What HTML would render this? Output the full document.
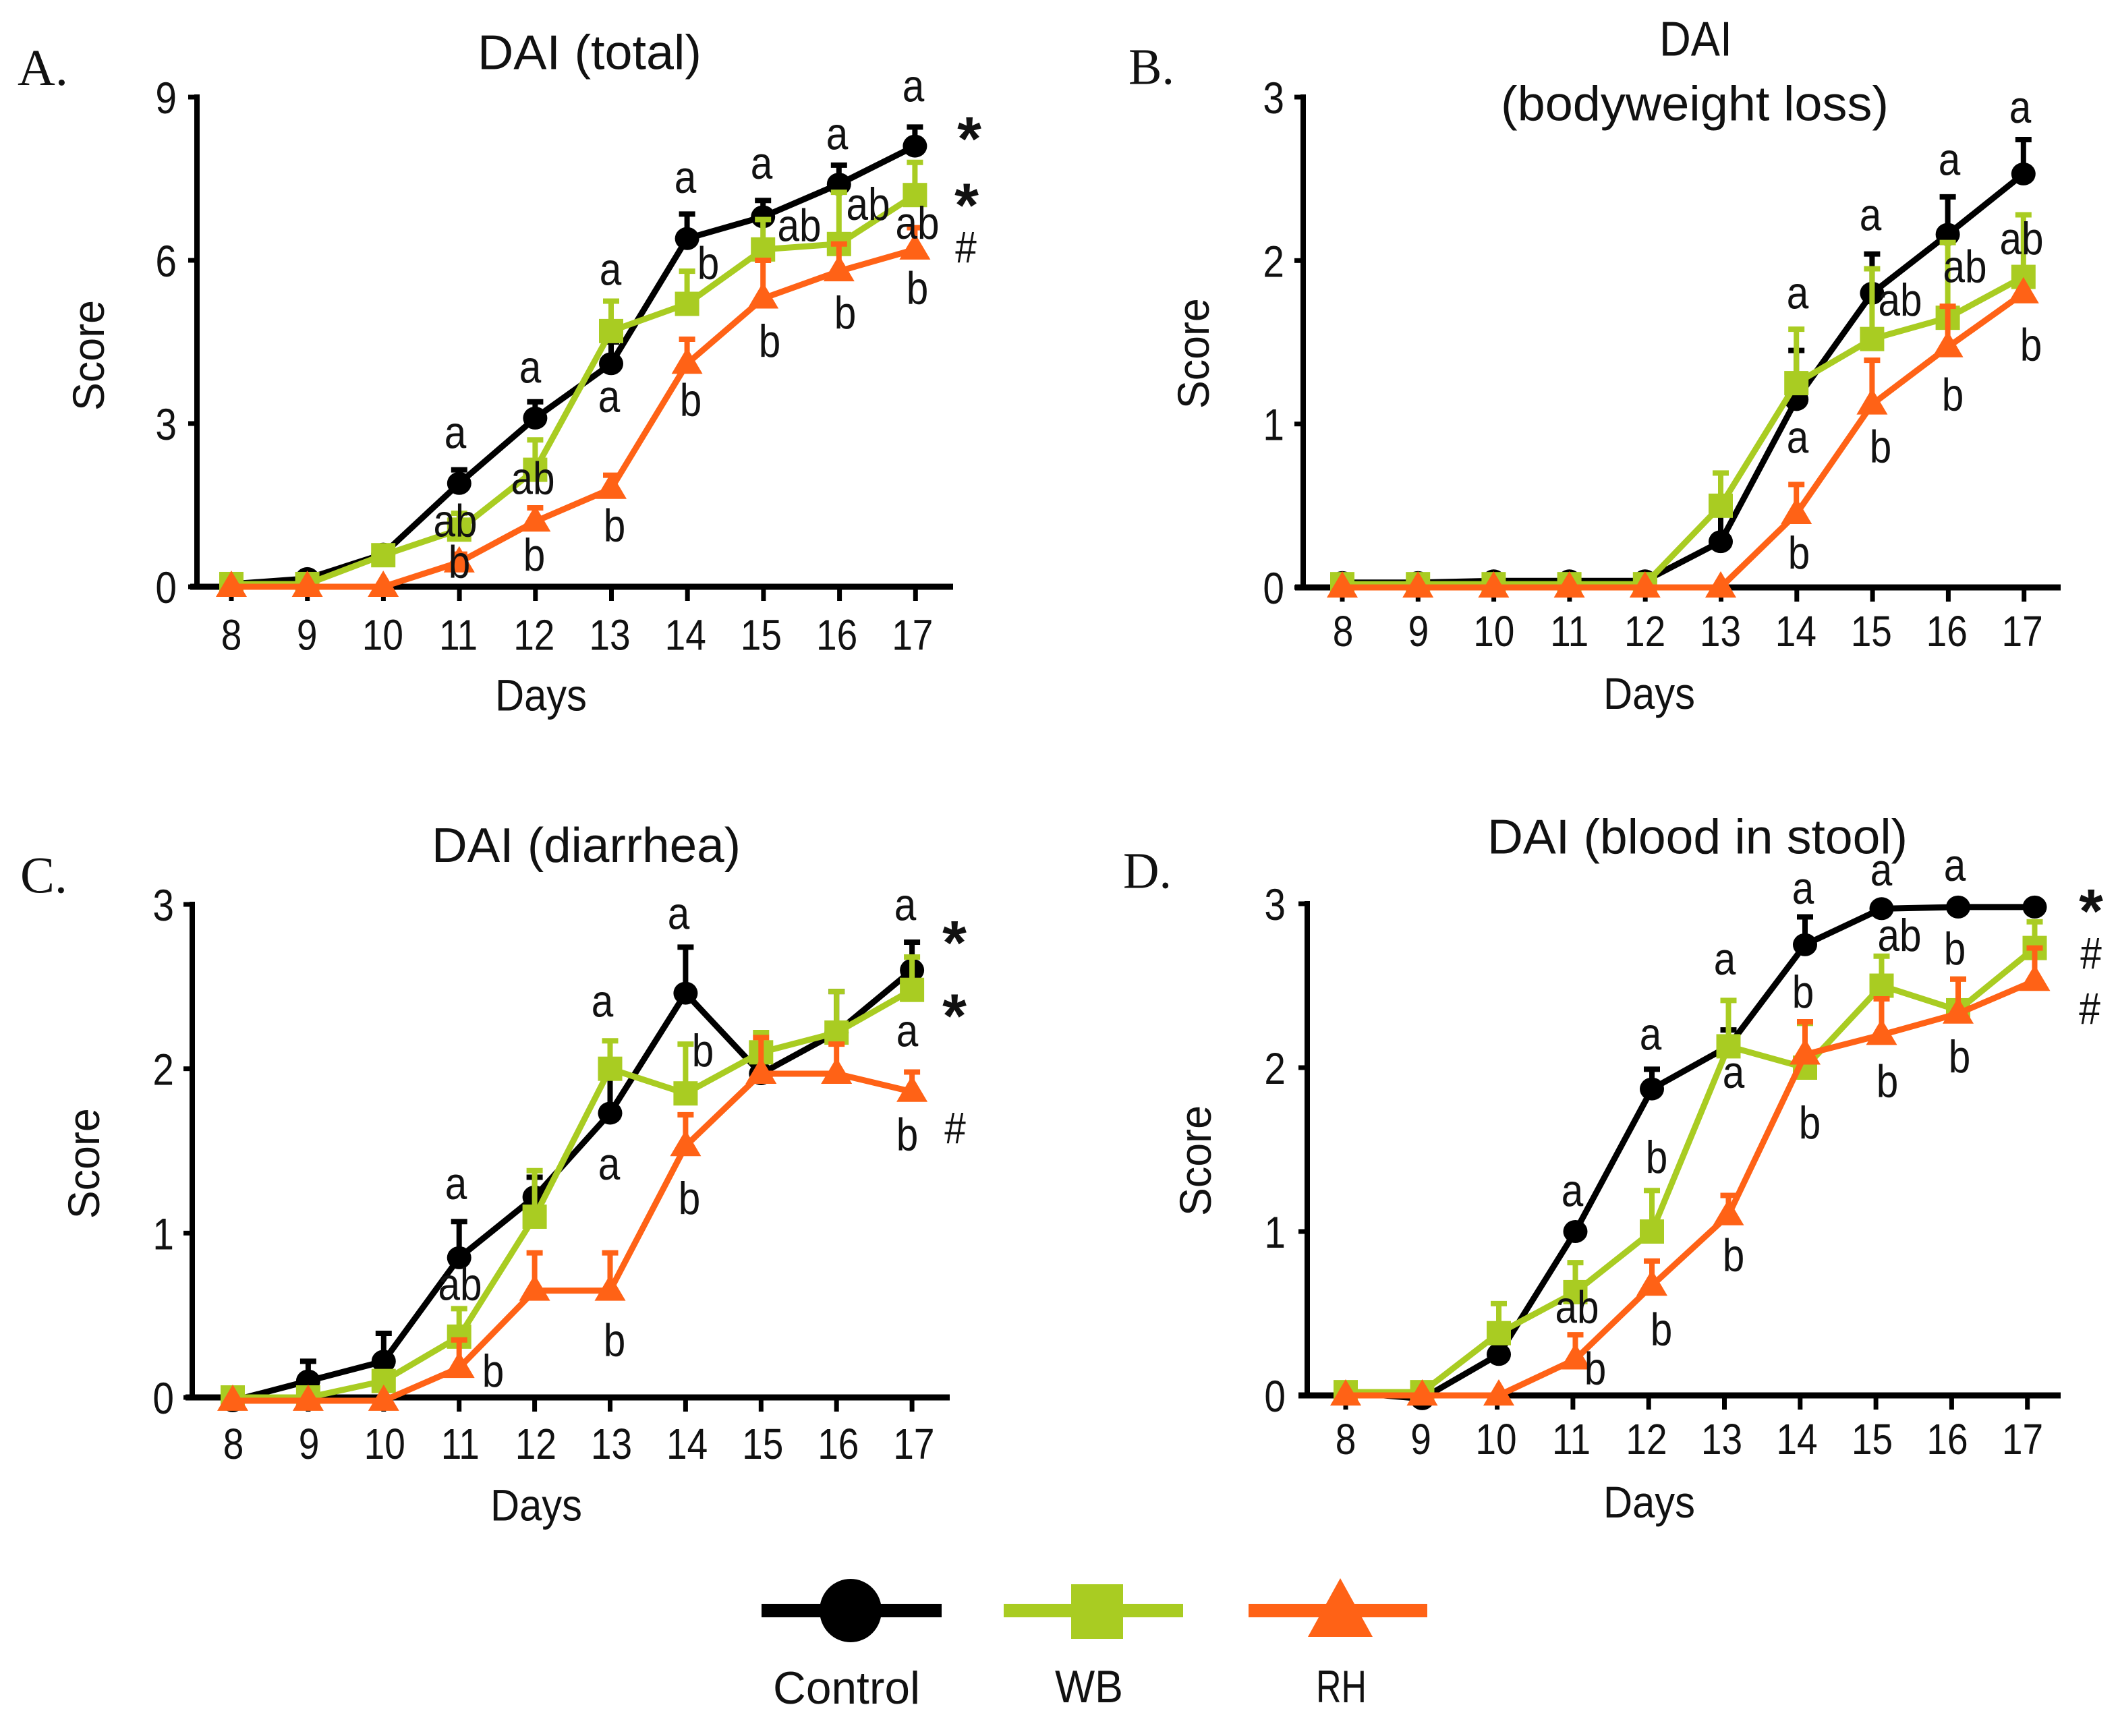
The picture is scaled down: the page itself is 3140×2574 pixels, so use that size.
<!DOCTYPE html>
<html>
<head>
<meta charset="utf-8">
<style>
html,body{margin:0;padding:0;background:#fff;}
svg{display:block;font-family:"Liberation Sans",sans-serif;}
text{fill:#111;}
</style>
</head>
<body>
<svg id="figure" width="3140" height="2574" viewBox="0 0 3140 2574" xmlns="http://www.w3.org/2000/svg"></svg>
<script>
const days = [8, 9, 10, 11, 12, 13, 14, 15, 16, 17];

const aTicks = [0, 3, 6, 9];
const aControl = [0.05, 0.15, 0.6, 1.9, 3.1, 4.1, 6.4, 6.8, 7.4, 8.1];
const aControlErr = [0, 0, 0.05, 0.25, 0.3, 0.4, 0.45, 0.3, 0.35, 0.35];
const aWB = [0.05, 0.05, 0.58, 1.05, 2.15, 4.7, 5.2, 6.2, 6.3, 7.2];
const aWBErr = [0, 0, 0.05, 0.3, 0.55, 0.55, 0.6, 0.55, 0.95, 0.6];
const aRH = [0, 0, 0, 0.45, 1.2, 1.8, 4.1, 5.3, 5.8, 6.2];
const aRHErr = [0, 0, 0, 0.15, 0.25, 0.25, 0.45, 0.7, 0.5, 0.4];

const bTicks = [0, 1, 2, 3];
const bControl = [0.03, 0.03, 0.04, 0.04, 0.04, 0.28, 1.15, 1.8, 2.16, 2.53];
const bControlErr = [0, 0, 0, 0, 0, 0.17, 0.3, 0.24, 0.23, 0.21];
const bWB = [0.02, 0.02, 0.02, 0.02, 0.02, 0.5, 1.25, 1.52, 1.65, 1.9];
const bWBErr = [0, 0, 0, 0, 0, 0.2, 0.33, 0.43, 0.46, 0.38];
const bRH = [0, 0, 0, 0, 0, 0, 0.45, 1.12, 1.47, 1.8];
const bRHErr = [0, 0, 0, 0, 0, 0, 0.18, 0.27, 0.25, 0];

const cTicks = [0, 1, 2, 3];
const cControl = [-0.02, 0.1, 0.22, 0.85, 1.22, 1.73, 2.46, 1.97, 2.22, 2.6];
const cControlErr = [0, 0.12, 0.17, 0.22, 0.12, 0.25, 0.28, 0.1, 0.25, 0.17];
const cWB = [0, 0, 0.1, 0.37, 1.1, 2.0, 1.85, 2.1, 2.22, 2.48];
const cWBErr = [0, 0, 0.05, 0.17, 0.28, 0.17, 0.3, 0.12, 0.25, 0.2];
const cRH = [-0.02, -0.02, -0.02, 0.18, 0.65, 0.65, 1.53, 1.97, 1.97, 1.86];
const cRHErr = [0, 0, 0, 0.17, 0.23, 0.23, 0.19, 0.22, 0.18, 0.12];

const dTicks = [0, 1, 2, 3];
const dControl = [0.02, -0.02, 0.25, 1, 1.87, 2.13, 2.75, 2.97, 2.98, 2.98];
const dControlErr = [0, 0, 0, 0, 0.12, 0.1, 0.17, 0, 0, 0];
const dWB = [0.02, 0.02, 0.38, 0.63, 1, 2.13, 2, 2.5, 2.35, 2.73];
const dWBErr = [0, 0, 0.18, 0.18, 0.25, 0.28, 0.27, 0.18, 0.19, 0.16];
const dRH = [0, 0, 0, 0.22, 0.67, 1.1, 2.08, 2.2, 2.33, 2.53];
const dRHErr = [0, 0, 0, 0.15, 0.15, 0.12, 0.2, 0.22, 0.21, 0.2];

const BLACK = '#000000', GREEN = '#A9CC22', ORANGE = '#FF6216';
const NS = 'http://www.w3.org/2000/svg';
const root = document.getElementById('figure');

function mk(tag, attrs, parent) {
  const el = document.createElementNS(NS, tag);
  for (const k in attrs) el.setAttribute(k, attrs[k]);
  (parent || root).appendChild(el);
  return el;
}
function txt(str, attrs, parent) {
  const el = mk('text', attrs, parent);
  el.textContent = str;
  return el;
}
function narrow(str, x, y, size, anchor, parent) {
  return txt(str, {x: 0, y: 0, transform: 'translate(' + x + ' ' + y + ') scale(0.86 1)', 'font-size': size, 'text-anchor': anchor}, parent);
}
const ZY = 1.427;

function drawSeries(g, key, label, color, values, errs, xf, yf) {
  const sg = mk('g', {}, g);
  
  
  values.forEach((v, i) => {
    if (errs[i] <= 0) return;
    const x = xf(i), y1 = yf(v), y2 = yf(v + errs[i]);
    const eb = mk('path', {d: 'M' + x + ' ' + y1 + 'V' + y2 + 'M' + (x - 12) + ' ' + y2 + 'H' + (x + 12), stroke: color, 'stroke-width': 8, fill: 'none'}, sg);
    
    
  });
  const line = mk('polyline', {points: values.map((v, i) => xf(i) + ',' + yf(v)).join(' '), fill: 'none', stroke: color, 'stroke-width': 9, 'stroke-linejoin': 'round'}, sg);
  
  
  values.forEach((v, i) => {
    const x = xf(i), y = yf(v);
    let m;
    if (label === 'control') m = mk('ellipse', {cx: x, cy: y, rx: 18, ry: 17, fill: color}, sg);
    else if (label === 'wb') m = mk('rect', {x: x - 18, y: y - 18, width: 36, height: 36, fill: color}, sg);
    else m = mk('polygon', {points: x + ',' + (y - 24) + ' ' + (x + 23) + ',' + (y + 15) + ' ' + (x - 23) + ',' + (y + 15), fill: color}, sg);
    
    
  });
}

function drawPanel(p) {
  const g = mk('g', {});
  
  
  const y = v => p.y0 - v * (p.y0 - p.yTop) / p.max;
  const xData = i => p.ox + p.dataX0 + p.dataDx * i;
  const xTick = i => p.ox + p.tickX0 + p.tickDx * i;
  const xLabel = i => p.ox + p.labelX0 + p.labelDx * i;

  const yAxis = mk('line', {x1: p.ox + p.axisX, x2: p.ox + p.axisX, y1: p.yTop - 4, y2: p.y0 + 4, stroke: '#000', 'stroke-width': 8}, g);
  
  
  const xAxis = mk('line', {x1: p.ox + p.xAxisL, x2: p.ox + p.xAxisR, y1: p.y0, y2: p.y0, stroke: '#000', 'stroke-width': 9}, g);
  
  

  p.ticks.forEach(v => {
    const t = mk('line', {x1: p.ox + p.axisX - 13, x2: p.ox + p.axisX, y1: y(v), y2: y(v), stroke: '#000', 'stroke-width': 7}, g);
    
    
    const l = narrow(String(v), p.ox + p.yLabelRight, y(v) + 24, 66, 'end', g);
    
    
  });
  days.forEach((d, i) => {
    const t = mk('line', {x1: xTick(i), x2: xTick(i), y1: p.y0, y2: p.y0 + 21, stroke: '#000', 'stroke-width': 7}, g);
    
    
    const l = narrow(String(d), xLabel(i), p.oy + p.xLabelBase / ZY, 64, 'middle', g);
    
    
  });

  drawSeries(g, p.key, 'control', BLACK, p.control, p.controlErr, xData, y);
  drawSeries(g, p.key, 'wb', GREEN, p.wb, p.wbErr, xData, y);
  drawSeries(g, p.key, 'rh', ORANGE, p.rh, p.rhErr, xData, y);

  const dl = txt('Days', {x: p.ox + p.daysCx, y: p.oy + p.daysBase / ZY, 'font-size': 66, 'text-anchor': 'middle', textLength: 136, lengthAdjust: 'spacingAndGlyphs'}, g);
  
  
  const sx = p.ox + p.scoreX, sy = p.oy + p.scoreY / ZY;
  const sl = txt('Score', {x: 0, y: 0, transform: 'translate(' + sx + ' ' + sy + ') rotate(-90)', 'font-size': 66, 'text-anchor': 'middle', textLength: 164, lengthAdjust: 'spacingAndGlyphs'}, g);
  
  

  const letter = txt(p.letter, {x: p.ox + p.letterX, y: p.oy + p.letterBase / ZY, 'font-size': 76, style: 'font-family:"Liberation Serif",serif', textLength: p.letterW, lengthAdjust: 'spacingAndGlyphs'}, g);
  
  
  return g;
}

function title(p, str, zx1, zx2, zBase) {
  const el = txt(str, {x: p.ox + (zx1 + zx2) / 2, y: p.oy + zBase / ZY, 'font-size': 72, 'text-anchor': 'middle', textLength: zx2 - zx1, lengthAdjust: 'spacingAndGlyphs'});
  
  
}
function note(p, str, zx, zBase) {
  const el = narrow(str, p.ox + zx, p.oy + zBase / ZY, 68, 'middle');
  
  
}
function star(p, zx, zCenter) {
  const el = txt('*', {x: p.ox + zx, y: p.oy + zCenter / ZY + 52, 'font-size': 92, 'font-weight': 'bold', 'text-anchor': 'middle'});
  
  
}
function hash(p, zx, zBase) {
  const el = narrow('#', p.ox + zx, p.oy + zBase / ZY, 66, 'middle');
  
  
}

const pA = {key:'a', letter:'A.', letterX:26, letterBase:180, letterW:75, ox:0, oy:0, axisX:292, yTop:144, y0:870, max:9, xAxisL:282, xAxisR:1413,
  tickX0:343, tickDx:112.7, dataX0:343, dataDx:112.6, labelX0:343, labelDx:112.2, yLabelRight:262, xLabelBase:1375, daysCx:802, daysBase:1503, scoreX:154, scoreY:752,
  ticks:aTicks, control:aControl, controlErr:aControlErr, wb:aWB, wbErr:aWBErr, rh:aRH, rhErr:aRHErr};
const pB = {key:'b', letter:'B.', letterX:103, letterBase:178, letterW:68, ox:1570, oy:0, axisX:362, yTop:144, y0:871, max:3, xAxisL:350, xAxisR:1485,
  tickX0:420, tickDx:112.3, dataX0:420, dataDx:112.2, labelX0:421, labelDx:111.9, yLabelRight:334, xLabelBase:1367, daysCx:875, daysBase:1500, scoreX:222, scoreY:748,
  ticks:bTicks, control:bControl, controlErr:bControlErr, wb:bWB, wbErr:bWBErr, rh:bRH, rhErr:bRHErr};
const pC = {key:'c', letter:'C.', letterX:30, letterBase:205, letterW:70, ox:0, oy:1180, axisX:285, yTop:1341, y0:2072, max:3, xAxisL:275, xAxisR:1408,
  tickX0:345, tickDx:111.9, dataX0:345, dataDx:111.9, labelX0:346, labelDx:112.1, yLabelRight:258, xLabelBase:1403, daysCx:795, daysBase:1533, scoreX:147, scoreY:778,
  ticks:cTicks, control:cControl, controlErr:cControlErr, wb:cWB, wbErr:cWBErr, rh:cRH, rhErr:cRHErr};
const pD = {key:'d', letter:'D.', letterX:95, letterBase:195, letterW:72, ox:1570, oy:1180, axisX:368, yTop:1340, y0:2069, max:3, xAxisL:355, xAxisR:1485,
  tickX0:425, tickDx:112.3, dataX0:425, dataDx:113.5, labelX0:425, labelDx:111.5, yLabelRight:336, xLabelBase:1393, daysCx:875, daysBase:1527, scoreX:225, scoreY:772,
  ticks:dTicks, control:dControl, controlErr:dControlErr, wb:dWB, wbErr:dWBErr, rh:dRH, rhErr:dRHErr};

[pA, pB, pC, pD].forEach(drawPanel);

title(pA, 'DAI (total)', 708, 1040, 146);
title(pB, 'DAI', 890, 998, 118);
title(pB, '(bodyweight loss)', 655, 1230, 255);
title(pC, 'DAI (diarrhea)', 640, 1098, 140);
title(pD, 'DAI (blood in stool)', 635, 1258, 122);

note(pA,'a',675,948); note(pA,'a',786,810); note(pA,'a',905,603); note(pA,'a',1016,408); note(pA,'a',1129,378); note(pA,'a',1241,316); note(pA,'a',1354,215);
note(pA,'ab',675,1135); note(pA,'b',681,1222); note(pA,'ab',790,1045); note(pA,'b',792,1207); note(pA,'a',903,872); note(pA,'b',911,1145);
note(pA,'b',1050,590); note(pA,'b',1024,880); note(pA,'ab',1185,510); note(pA,'b',1141,755); note(pA,'ab',1287,465); note(pA,'b',1253,695); note(pA,'ab',1360,505); note(pA,'b',1360,643);
star(pA,1437,265); star(pA,1433,405); hash(pA,1432,555);

note(pB,'a',1095,653); note(pB,'a',1095,958); note(pB,'b',1097,1203); note(pB,'a',1203,487); note(pB,'ab',1247,668); note(pB,'b',1218,978);
note(pB,'a',1320,370); note(pB,'ab',1343,597); note(pB,'b',1325,868); note(pB,'a',1425,260); note(pB,'ab',1427,538); note(pB,'b',1441,763);

note(pC,'a',676,853); note(pC,'ab',682,1067); note(pC,'b',731,1250); note(pC,'a',893,467); note(pC,'a',903,812); note(pC,'b',911,1185);
note(pC,'a',1006,282); note(pC,'b',1042,572); note(pC,'b',1022,885); note(pC,'a',1342,263); note(pC,'a',1345,530); note(pC,'b',1345,750);
star(pC,1415,282); star(pC,1415,437); hash(pC,1416,735);

note(pD,'a',761,868); note(pD,'ab',768,1115); note(pD,'b',795,1245); note(pD,'a',877,537); note(pD,'b',886,798); note(pD,'b',893,1162);
note(pD,'a',987,378); note(pD,'a',1000,618); note(pD,'b',1000,1005); note(pD,'a',1103,228); note(pD,'b',1103,448); note(pD,'b',1113,725);
note(pD,'a',1219,190); note(pD,'ab',1246,328); note(pD,'b',1228,637); note(pD,'a',1328,180); note(pD,'b',1328,357); note(pD,'b',1335,585);
star(pD,1530,215); hash(pD,1530,365); hash(pD,1528,482);
</script>
<svg width="3140" height="2574" viewBox="0 0 3140 2574" xmlns="http://www.w3.org/2000/svg" style="position:absolute;left:0;top:0;pointer-events:none">
  <g>
    <rect x="1129" y="2378" width="267" height="20" fill="#000"/>
    <ellipse cx="1261" cy="2388" rx="46" ry="47" fill="#000"/>
    <text x="1146" y="2526" font-size="68" textLength="218" lengthAdjust="spacingAndGlyphs">Control</text>
  </g>
  <g>
    <rect x="1488" y="2378" width="266" height="20" fill="#A9CC22"/>
    <rect x="1588" y="2349" width="77" height="81" fill="#A9CC22"/>
    <text x="1564" y="2524" font-size="68" textLength="101" lengthAdjust="spacingAndGlyphs">WB</text>
  </g>
  <g>
    <rect x="1851" y="2378" width="265" height="20" fill="#FF6216"/>
    <polygon points="1987,2340 2035,2427 1939,2427" fill="#FF6216"/>
    <text x="1951" y="2524" font-size="68" textLength="75" lengthAdjust="spacingAndGlyphs">RH</text>
  </g>
</svg>
</body>
</html>
